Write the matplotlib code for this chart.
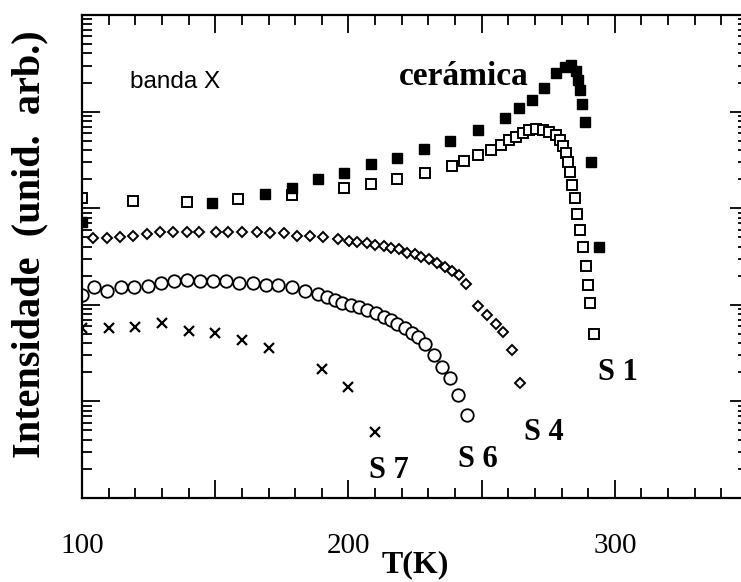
import numpy as np
import matplotlib
matplotlib.use("Agg")
import matplotlib.pyplot as plt
from matplotlib.ticker import MultipleLocator, LogLocator, NullFormatter

# S1 (open squares)
t_s1 = [100, 119.2, 139.5, 158.6, 178.9, 198.5, 208.3, 218.4, 228.6, 238.7, 243.2, 248.5,
        253.4, 257.1, 260.2, 262.8, 265.4, 267.7, 270.3, 272.9, 275.2, 277.8, 279.3, 280.5,
        281.6, 282.3, 283.1, 283.8, 285.0, 285.7, 286.8, 288.0, 289.1, 289.8, 290.6, 292.1]
i_s1 = [1280, 1190, 1160, 1250, 1370, 1620, 1780, 2000, 2310, 2740, 3080, 3560,
        4000, 4510, 5080, 5460, 6000, 6460, 6610, 6460, 6150, 5730, 5080, 4410,
        3720, 3010, 2370, 1740, 1280, 870, 590, 400, 250, 160, 104, 50]

# ceramica (filled squares)
t_cer = [100, 148.9, 168.8, 178.9, 188.7, 198.5, 208.6, 218.4, 228.2, 238.3, 248.5, 258.6,
         263.9, 268.8, 273.3, 277.8, 281.2, 283.5, 285.3, 286.1, 286.8, 287.6, 288.7, 291.0, 294.0]
i_cer = [720, 1130, 1400, 1620, 2000, 2310, 2870, 3310, 4100, 4970, 6460, 8590,
         10900, 13200, 17500, 25100, 29000, 30300, 26300, 21200, 16700, 12000, 7800, 3010, 396]

# S4 (diamonds)
t_s4 = [104.1, 109.4, 114.3, 119.2, 124.4, 129.3, 134.2, 139.5, 144.0, 150.4, 154.9, 160.2,
        165.8, 170.7, 176.0, 180.8, 185.7, 190.6, 195.9, 200.4, 203.4, 206.8, 209.8, 213.2,
        215.8, 218.8, 221.8, 224.8, 227.4, 230.1, 233.1, 236.1, 238.7, 241.4, 244.0, 248.5,
        251.9, 255.3, 257.9, 261.3, 264.3]
i_s4 = [492, 492, 503, 516, 541, 568, 568, 568, 568, 568, 568, 568,
        568, 553, 553, 516, 516, 503, 480, 457, 447, 436, 416, 406,
        387, 378, 344, 336, 313, 298, 271, 246, 224, 203, 164, 97,
        78, 63, 52, 34, 15.5]

# S6 (circles)
t_s6 = [100, 104.5, 109.4, 114.7, 119.5, 124.8, 129.7, 134.6, 139.5, 144.4, 149.2, 154.1,
        159.0, 164.3, 169.2, 173.7, 178.9, 183.8, 188.7, 192.1, 195.1, 197.7, 200.8, 203.8,
        207.1, 210.2, 213.2, 215.8, 218.4, 221.1, 223.7, 226.0, 228.6, 232.0, 235.0, 238.0,
        241.0, 244.4]
i_s6 = [126, 153, 139, 153, 153, 157, 168, 176, 181, 176, 176, 176,
        168, 168, 160, 160, 153, 139, 129, 120, 112, 104, 99.5, 95,
        88, 82, 75, 70, 63, 58, 51, 46, 39, 30, 22.7, 17.5,
        11.6, 7.2]

# S7 (crosses)
t_s7 = [100, 110, 120, 130, 140, 150, 160, 170, 190, 200, 210]
i_s7 = [57.5, 57.5, 58.9, 64.8, 53.5, 51.1, 43.3, 35.7, 21.6, 14.1, 4.8]

serif = ['Liberation Serif', 'DejaVu Serif']

fig = plt.figure(figsize=(7.41, 5.82), dpi=100)
ax = fig.add_axes([0.1107, 0.1443, 0.8988, 0.8299])

ax.plot(t_s1, i_s1, 's', ms=6.5, mfc='white', mec='black', mew=1.4, ls='none')
ax.plot(t_cer, i_cer, 's', ms=7.0, mfc='black', mec='black', mew=1.0, ls='none')
ax.plot(t_s4, i_s4, 'D', ms=5.5, mfc='white', mec='black', mew=1.4, ls='none')
ax.plot(t_s6, i_s6, 'o', ms=9, mfc='white', mec='black', mew=1.3, ls='none')
ax.plot(t_s7, i_s7, 'x', ms=7, mec='black', mew=1.6, ls='none')

ax.set_yscale('log')
ax.set_xlim(100, 350)
ax.set_ylim(1, 1e5)

ax.xaxis.set_minor_locator(MultipleLocator(10))
ax.set_xticks([100, 150, 200, 250, 300])
ax.set_xticklabels(['100', '', '200', '', '300'])
ax.yaxis.set_major_locator(LogLocator(base=10, numticks=10))
ax.yaxis.set_minor_locator(LogLocator(base=10, subs=np.arange(2, 10), numticks=10))
ax.yaxis.set_major_formatter(NullFormatter())
ax.yaxis.set_minor_formatter(NullFormatter())

ax.tick_params(which='both', direction='in', top=True, right=True, width=1.3, color='black')
ax.tick_params(which='major', length=13)
ax.tick_params(which='minor', length=7)
ax.tick_params(axis='x', which='major', pad=25, labelsize=21)
for lab in ax.get_xticklabels():
    lab.set_family(serif)

for sp in ax.spines.values():
    sp.set_linewidth(1.6)

ax.set_xlabel('T(K)', family=serif, fontsize=23, fontweight='bold', labelpad=-6)
ax.set_ylabel('Intensidade  (unid.  arb.)', family=serif, fontsize=29, fontweight='bold')
ax.yaxis.set_label_coords(-0.051, 0.525)

ax.text(118.0, 17500, 'banda X', family=['Liberation Sans', 'DejaVu Sans'], fontsize=17.5,
        ha='left', va='baseline')
ax.text(218.8, 18800, 'cerámica', family=serif, fontsize=24, fontweight='bold',
        ha='left', va='baseline')
ax.text(293.6, 16.7, 'S 1', family=serif, fontsize=22, fontweight='bold', ha='left', va='baseline')
ax.text(265.8, 3.98, 'S 4', family=serif, fontsize=22, fontweight='bold', ha='left', va='baseline')
ax.text(241.0, 2.09, 'S 6', family=serif, fontsize=22, fontweight='bold', ha='left', va='baseline')
ax.text(207.9, 1.61, 'S 7', family=serif, fontsize=22, fontweight='bold', ha='left', va='baseline')

fig.savefig('out.png', dpi=100)
